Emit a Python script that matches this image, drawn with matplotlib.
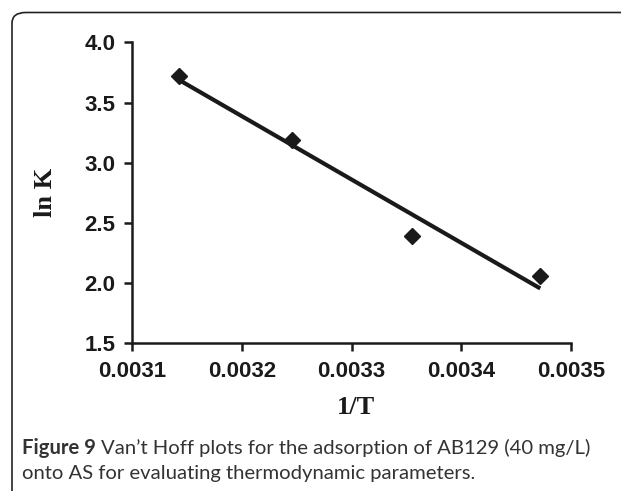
import matplotlib
matplotlib.use("Agg")
import matplotlib.pyplot as plt
import numpy as np
from matplotlib.patches import FancyBboxPatch

inv_T = [0.003143, 0.003246, 0.003355, 0.003472]
ln_K = [3.723, 3.189, 2.391, 2.059]
x_ticks = [0.0031, 0.0032, 0.0033, 0.0034, 0.0035]
x_tick_labels = ["0.0031", "0.0032", "0.0033", "0.0034", "0.0035"]
y_ticks = [1.5, 2.0, 2.5, 3.0, 3.5, 4.0]
y_tick_labels = ["1.5", "2.0", "2.5", "3.0", "3.5", "4.0"]
caption_bold = "Figure 9"
caption_line1 = "Van\u2019t Hoff plots for the adsorption of AB129 (40 mg/L)"
caption_line2 = "onto AS for evaluating thermodynamic parameters."

W, H = 621, 491
fig = plt.figure(figsize=(W / 100, H / 100), dpi=100)

# outer frame
frame = FancyBboxPatch((12 / W, -0.1), 1.2, 1 - 12.5 / H + 0.1,
                       boxstyle="round,pad=0,rounding_size=0.022",
                       transform=fig.transFigure, fill=False,
                       edgecolor="#222222", linewidth=1.2, clip_on=False)
fig.patches.append(frame)

ax = fig.add_axes([132 / W, 1 - 343.3 / H, (571 - 132) / W, (343.3 - 42.5) / H])
ax.set_xlim(0.0031, 0.0035)
ax.set_ylim(1.5, 4.0)

x = np.array(inv_T)
y = np.array(ln_K)
m, b = np.polyfit(x, y, 1)
xl = np.array([x.min(), x.max()])
ax.plot(xl, m * xl + b, color="#1a1a1a", linewidth=3.0, solid_capstyle="butt", zorder=2)
ax.plot(x, y, linestyle="none", marker="D", markersize=8.5, color="#1a1a1a", zorder=3)

for s in ["top", "right"]:
    ax.spines[s].set_visible(False)
for s in ["left", "bottom"]:
    ax.spines[s].set_linewidth(1.8)
    ax.spines[s].set_color("#1a1a1a")

tick_font = dict(family=["Liberation Sans", "DejaVu Sans"], weight="bold", size=16)
ax.set_xticks(x_ticks)
ax.set_xticklabels(x_tick_labels, **tick_font)
ax.set_yticks(y_ticks)
ax.set_yticklabels(y_tick_labels, **tick_font)
ax.tick_params(axis="both", direction="out", length=5.5, width=1.8, colors="#1a1a1a")
ax.tick_params(axis="x", pad=7.5)
ax.tick_params(axis="y", pad=6.5)

lab_font = dict(family=["Liberation Serif", "DejaVu Serif"], weight="bold", size=19, color="#1a1a1a")
fig.text(45 / W, 1 - 192 / H, "ln K", rotation=90, ha="center", va="center", **lab_font)
fig.text(356 / W, 1 - 407 / H, "1/T", ha="center", va="center", **lab_font)

cap_font = ["Lato", "DejaVu Sans"]
cap_size = 14.6
t1 = fig.text(22 / W, 1 - 448 / H, caption_bold, ha="left", va="center",
              family=cap_font, weight="bold", size=cap_size, color="#333333")
fig.canvas.draw()
bb = t1.get_window_extent()
t2 = fig.text(bb.x1 / W + 5 / W, 1 - 448 / H, caption_line1,
              ha="left", va="center", family=cap_font, size=cap_size, color="#333333")
t3 = fig.text(22 / W, 1 - 473 / H, caption_line2,
              ha="left", va="center", family=cap_font, size=cap_size, color="#333333")

fig.savefig("out.png", dpi=100)
